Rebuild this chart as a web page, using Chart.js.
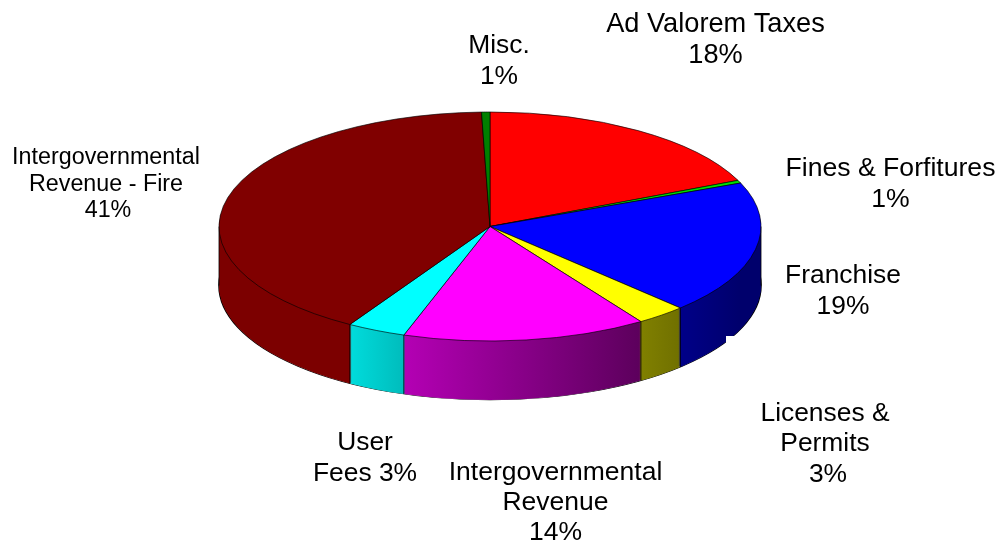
<!DOCTYPE html>
<html>
<head>
<meta charset="utf-8">
<title>Revenue sources</title>
<script src="https://cdn.jsdelivr.net/npm/chart.js@4"></script>
<style>
  html, body { margin: 0; padding: 0; background: #fff; }
  canvas { display: block; }
</style>
</head>
<body>
<canvas id="pie3d" width="1003" height="546"></canvas>
<script>
const categories = ["Ad Valorem Taxes", "Fines & Forfitures", "Franchise", "Licenses & Permits",
  "Intergovernmental Revenue", "User Fees", "Intergovernmental Revenue - Fire", "Misc."];
// slice sizes (the printed labels are rounded)
const shares = [18.4, 0.4, 18.8, 3.0, 14.55, 3.5, 40.85, 0.5];
const topColors = ["#ff0000", "#00e000", "#0000ff", "#ffff00", "#ff00ff", "#00ffff", "#800000", "#008000"];
const wallLeft = ["#800000", "#008000", "#000088", "#808000", "#b400b4", "#00dcdc", "#7c0000", "#008000"];
const wallRight = ["#800000", "#008000", "#00006c", "#707000", "#5c005c", "#00bcbc", "#7c0000", "#008000"];

const labelLines = [
  ["Ad Valorem Taxes", "18%"],
  ["Fines & Forfitures", "1%"],
  ["Franchise", "19%"],
  ["Licenses &", "Permits", "3%"],
  ["Intergovernmental", "Revenue", "14%"],
  ["User", "Fees 3%"],
  ["Intergovernmental", "Revenue - Fire", "41%"],
  ["Misc.", "1%"],
];
const labelCenterX = [715.5, 890.5, 843, 825, 555.5, 365, 106, 499];
const labelTopY = [24.5, 168.5, 275.5, 413.5, 472.5, 442.5, 158, 45.5];
const labelLeading = [31, 31, 31, 30.5, 30, 31, 26.5, 31];
const labelFontPx = [27.2, 26.6, 26.4, 26.4, 26.5, 26.4, 23.3, 26.4];
// the percent line sits a little off centre on these two labels
const lastLineShift = [0, 0, 0, 3, 0, 0, 2, 0];

const PIE_R = 271;
const TOP_CY = 226.5;
const SQUASH = 114.5 / 271;
const DEPTH = 59;

// squash the flat pie into an ellipse
function applyTilt(ctx, chart, shift) {
  const cy = chart.getDatasetMeta(0).data[0].y;
  ctx.translate(0, TOP_CY + shift);
  ctx.scale(1, SQUASH);
  ctx.translate(0, -cy);
}

const tiltPlugin = {
  id: "tilt",
  beforeDatasetsDraw(chart) {
    const ctx = chart.ctx;
    const arcs = chart.getDatasetMeta(0).data;
    const cx = arcs[0].x;
    const R = arcs[0].outerRadius;

    const walls = arcs.map((arc, i) => {
      const g = ctx.createLinearGradient(
        cx + R * Math.cos(arc.startAngle), 0, cx + R * Math.cos(arc.endAngle), 0);
      const leftFirst = Math.cos(arc.startAngle) < Math.cos(arc.endAngle);
      g.addColorStop(0, leftFirst ? wallLeft[i] : wallRight[i]);
      g.addColorStop(1, leftFirst ? wallRight[i] : wallLeft[i]);
      const wall = Object.create(arc);
      wall.options = { ...arc.options, backgroundColor: g, borderWidth: 0 };
      return wall;
    });

    // outline of the bottom face first
    ctx.save();
    applyTilt(ctx, chart, DEPTH);
    ctx.beginPath();
    ctx.ellipse(cx, arcs[0].y, R, R, 0, 0, Math.PI * 2);
    ctx.lineWidth = 1.6;
    ctx.strokeStyle = "#000";
    ctx.stroke();
    ctx.restore();

    for (let d = DEPTH; d >= 1; d--) {
      ctx.save();
      applyTilt(ctx, chart, d);
      walls.forEach((w) => w.draw(ctx));
      ctx.restore();
    }

    // vertical edges where slices meet, plus the two silhouette edges
    const edges = arcs.map((a) => a.startAngle).filter((a) => Math.sin(a) > 0).concat([0, Math.PI]);
    ctx.save();
    ctx.strokeStyle = "#000";
    ctx.lineWidth = 0.8;
    edges.forEach((a) => {
      const x = cx + R * Math.cos(a);
      const y = TOP_CY + R * SQUASH * Math.sin(a);
      ctx.beginPath();
      ctx.moveTo(x, y);
      ctx.lineTo(x, y + DEPTH);
      ctx.stroke();
    });
    ctx.restore();

    ctx.save();
    applyTilt(ctx, chart, 0);
  },
  afterDatasetsDraw(chart) {
    const ctx = chart.ctx;
    ctx.restore();
    // white box of the original picture that bites into the Franchise wall
    ctx.fillStyle = "#fff";
    ctx.fillRect(726, 336, 44, 40);
  },
  afterDraw(chart) {
    const ctx = chart.ctx;
    ctx.save();
    ctx.fillStyle = "#000";
    ctx.textAlign = "center";
    ctx.textBaseline = "middle";
    labelLines.forEach((lines, i) => {
      ctx.font = labelFontPx[i] + 'px "Liberation Sans", Arial, sans-serif';
      lines.forEach((line, j) => {
        const shift = j === lines.length - 1 ? lastLineShift[i] : 0;
        ctx.fillText(line, labelCenterX[i] + shift, labelTopY[i] + j * labelLeading[i]);
      });
    });
    ctx.restore();
  },
};

new Chart(document.getElementById("pie3d"), {
  type: "pie",
  data: {
    labels: categories,
    datasets: [{
      data: shares,
      backgroundColor: topColors,
      borderColor: "#000",
      borderWidth: 0.9,
      radius: PIE_R,
      clip: false,
    }],
  },
  options: {
    responsive: false,
    animation: false,
    layout: { padding: { right: 23 } },
    plugins: { legend: { display: false }, tooltip: { enabled: false } },
  },
  plugins: [tiltPlugin],
});
</script>
</body>
</html>
